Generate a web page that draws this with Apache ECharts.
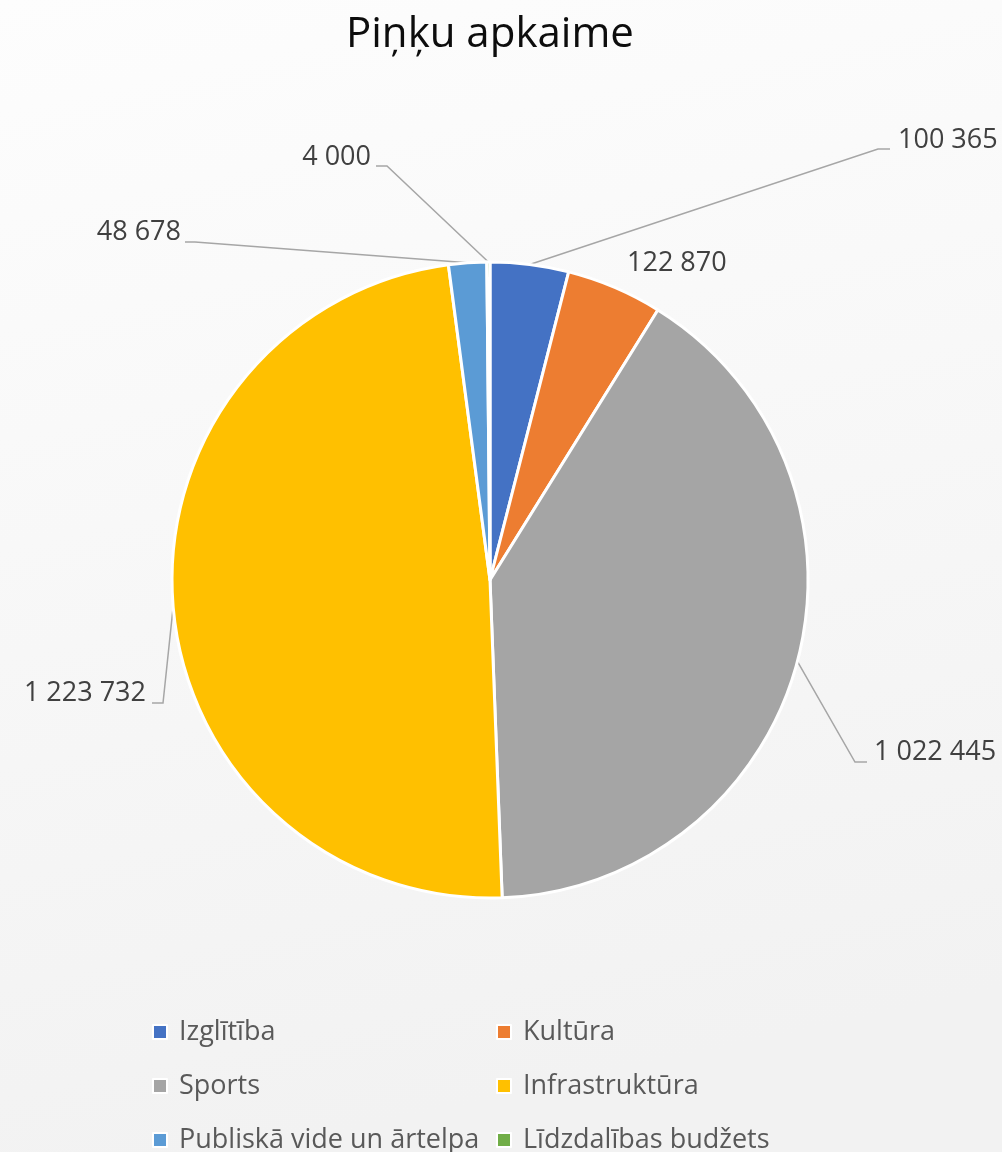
<!DOCTYPE html>
<html>
<head>
<meta charset="utf-8">
<script src="https://cdn.jsdelivr.net/npm/echarts@6/dist/echarts.min.js"></script>
<style>
  html, body { margin: 0; padding: 0; }
  #chart { width: 1002px; height: 1152px; }
</style>
</head>
<body>
<div id="chart"></div>
<script>
const titleText = "Piņķu apkaime";
const categories = [
  "Izglītība",
  "Kultūra",
  "Sports",
  "Infrastruktūra",
  "Publiskā vide un ārtelpa",
  "Līdzdalības budžets",
];
const values = [100365, 122870, 1022445, 1223732, 48678, 4000];
const colors = ["#4472C4", "#ED7D31", "#A5A5A5", "#FFC000", "#5B9BD5", "#70AD47"];

// where Excel put each data label (text anchor + leader line bend)
const labelSpots = [
  { x: 898, y: 140, align: "left", bend: [878, 149], end: [890, 149] },
  { x: 627, y: 263, align: "left" },
  { x: 874, y: 752, align: "left", bend: [855, 762], end: [867, 762] },
  { x: 146, y: 693, align: "right", bend: [163, 703], end: [152, 703] },
  { x: 181, y: 232, align: "right", bend: [195, 242], end: [185, 242] },
  { x: 371, y: 157, align: "right", bend: [387, 166], end: [376, 166] },
];

const fmt = (v) => String(v).replace(/\B(?=(\d{3})+(?!\d))/g, " ");

const myChart = echarts.init(document.getElementById("chart"));

myChart.setOption({
  backgroundColor: {
    type: "linear",
    x: 0, y: 0, x2: 0.25, y2: 1,
    colorStops: [
      { offset: 0, color: "#fdfdfd" },
      { offset: 1, color: "#f2f2f2" },
    ],
  },
  color: colors,
  title: {
    text: titleText,
    left: 341,
    top: 9,
    textStyle: {
      fontFamily: "Open Sans",
      fontSize: 42,
      fontWeight: "normal",
      color: "#0d0d0d",
    },
  },
  legend: {
    data: categories,
    left: 147,
    top: 1007,
    width: 720,
    itemWidth: 14,
    itemHeight: 14,
    itemGap: 14,
    icon: "rect",
    itemStyle: { borderColor: "#ffffff", borderWidth: 2 },
    textStyle: {
      fontFamily: "Open Sans",
      fontSize: 27,
      color: "#595959",
      lineHeight: 40,
      width: 303,
      overflow: "none",
      padding: [0, 0, 0, 7],
    },
  },
  series: [
    {
      type: "pie",
      center: [490, 580],
      radius: 318,
      startAngle: 90,
      clockwise: true,
      avoidLabelOverlap: false,
      itemStyle: { borderColor: "#ffffff", borderWidth: 3 },
      label: {
        show: true,
        position: "outside",
        fontFamily: "Open Sans",
        fontSize: 27,
        color: "#404040",
        formatter: (p) => fmt(p.value),
      },
      labelLine: {
        show: true,
        length: 20,
        length2: 10,
        lineStyle: { color: "#a6a6a6", width: 1.5 },
      },
      labelLayout: function (p) {
        const s = labelSpots[p.dataIndex];
        const out = { x: s.x, y: s.y, align: s.align, verticalAlign: "middle" };
        if (s.bend && p.labelLinePoints) {
          out.labelLinePoints = [p.labelLinePoints[0], s.bend, s.end];
        }
        return out;
      },
      data: categories.map((name, i) => ({
        name: name,
        value: values[i],
        labelLine: { show: labelSpots[i].bend ? true : false },
      })),
    },
  ],
});
</script>
</body>
</html>
